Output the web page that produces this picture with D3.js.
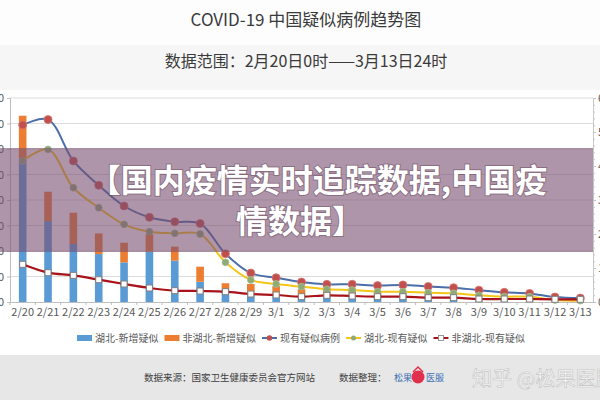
<!DOCTYPE html>
<html><head><meta charset="utf-8">
<script src="https://cdn.jsdelivr.net/npm/d3@7"></script>
<style>body{margin:0;background:#fff}svg{display:block}text{font-family:"Noto Sans CJK SC","Noto Sans",sans-serif}</style>
</head><body><svg id="c" width="600" height="400"></svg>
<script>
const categories = ["2/20","2/21","2/22","2/23","2/24","2/25","2/26","2/27","2/28","2/29","3/1","3/2","3/3","3/4","3/5","3/6","3/7","3/8","3/9","3/10","3/11","3/12","3/13"];
const hubeiNew    = [1127,635,455,376,311,395,324,159,73,55,47,42,52,52,45,55,50,20,10,8,6,5,5];
const nonHubeiNew = [334,230,245,162,154,136,110,118,74,86,78,58,63,55,40,25,25,20,20,18,22,25,30];
const totalExisting    = [5206,5365,4148,3434,2824,2491,2358,2308,1418,851,715,587,520,522,482,502,458,421,349,285,253,147,115];
const hubeiExisting    = [4145,4489,3360,2772,2284,2067,2020,2000,1167,647,529,450,373,353,303,303,274,255,196,157,157,59,39];
const nonHubeiExisting = [1108,862,784,656,529,412,333,323,303,235,206,157,196,176,157,157,127,127,88,88,88,78,78];
const leftTicks  = [0,200,400,600,800,1000,1200,1400,1600];
const rightTicks = [0,1000,2000,3000,4000,5000,6000];
const legendLabels = ["湖北-新增疑似","非湖北-新增疑似","现有疑似病例","湖北-现有疑似","非湖北-现有疑似"];

const svg = d3.select("#c");
// backgrounds
svg.append("rect").attr("x",0).attr("y",0).attr("width",600).attr("height",400).attr("fill","#fdfdfd");
svg.append("rect").attr("x",0).attr("y",45).attr("width",600).attr("height",45).attr("fill","#f6f6f6");
svg.append("rect").attr("x",0).attr("y",90).attr("width",600).attr("height",265).attr("fill","#ffffff");
svg.append("rect").attr("x",0).attr("y",355).attr("width",600).attr("height",45).attr("fill","#e7e7e7");

svg.append("text").attr("x",306).attr("y",26).attr("text-anchor","middle").attr("font-size",17).attr("fill","#3a3a3a").text("COVID-19 中国疑似病例趋势图");
svg.append("text").attr("x",306).attr("y",67).attr("text-anchor","middle").attr("font-size",16).attr("fill","#3a3a3a").text("数据范围：2月20日0时——3月13日24时");

const L = 10, R = 593, T = 98, B = 302;
const x = d3.scaleBand().domain(categories).range([L,R]).paddingInner(0.7).paddingOuter(0.35);
const yL = d3.scaleLinear().domain([0,1600]).range([B,T]);
const yR = d3.scaleLinear().domain([0,6000]).range([B,T]);
const cx = d => x(d) + x.bandwidth()/2;

// gridlines
svg.append("g").selectAll("line").data(leftTicks.slice(1)).join("line")
  .attr("x1",L).attr("x2",R).attr("y1",d=>yL(d)).attr("y2",d=>yL(d)).attr("stroke","#dcdcdc").attr("stroke-width",1);

// left axis
const gl = svg.append("g").attr("transform",`translate(${L},0)`).call(d3.axisLeft(yL).tickValues(leftTicks).tickSize(3).tickPadding(3));
gl.selectAll("text").attr("font-size",11).attr("fill","#595959");
gl.selectAll("line,path").attr("stroke","#bfbfbf");
// right axis
const gr = svg.append("g").attr("transform",`translate(${R},0)`).call(d3.axisRight(yR).tickValues(rightTicks).tickSize(3).tickPadding(2));
gr.selectAll("text").attr("font-size",11).attr("fill","#595959");
gr.selectAll("line,path").attr("stroke","#bfbfbf");
svg.append("g").attr("transform",`translate(${R},0)`).call(d3.axisRight(yR).tickValues(d3.range(0,6001,200)).tickSize(2).tickFormat(""))
  .selectAll("line,path").attr("stroke","#c8c8c8");
// bottom axis
const gb = svg.append("g").attr("transform",`translate(0,${B})`).call(d3.axisBottom(x).tickSize(0).tickPadding(6));
gb.select("path").attr("stroke","#bfbfbf");
gb.selectAll("text").attr("font-size",11).attr("fill","#595959");
svg.append("g").selectAll("line").data(categories).join("line")
  .attr("x1",d=>x(d)-x.step()*0.35).attr("x2",d=>x(d)-x.step()*0.35).attr("y1",B).attr("y2",B+3).attr("stroke","#bfbfbf");

// stacked bars
svg.append("g").selectAll("rect").data(categories).join("rect")
  .attr("x",d=>x(d)).attr("width",x.bandwidth())
  .attr("y",(d,i)=>yL(hubeiNew[i])).attr("height",(d,i)=>B-yL(hubeiNew[i])).attr("fill","#5b9bd5");
svg.append("g").selectAll("rect").data(categories).join("rect")
  .attr("x",d=>x(d)).attr("width",x.bandwidth())
  .attr("y",(d,i)=>yL(hubeiNew[i]+nonHubeiNew[i])).attr("height",(d,i)=>yL(hubeiNew[i])-yL(hubeiNew[i]+nonHubeiNew[i])).attr("fill","#ed7d31");

// lines
const line = d3.line().x((d,i)=>cx(categories[i])).y(d=>yR(d)).curve(d3.curveCatmullRom.alpha(0.5));
function drawLine(vals, col, w){
  svg.append("path").attr("d",line(vals)).attr("fill","none").attr("stroke",col).attr("stroke-width",w);
}
drawLine(totalExisting,"#4a6eaa",2);
svg.append("g").selectAll("circle").data(totalExisting).join("circle")
  .attr("cx",(d,i)=>cx(categories[i])).attr("cy",d=>yR(d)).attr("r",4).attr("fill","#c0504d").attr("stroke","#d9736f").attr("stroke-width",0.8);
drawLine(hubeiExisting,"#f5c518",2);
svg.append("g").selectAll("circle").data(hubeiExisting).join("circle")
  .attr("cx",(d,i)=>cx(categories[i])).attr("cy",d=>yR(d)).attr("r",3.4).attr("fill","#8eaa78").attr("stroke","#a7bf8f").attr("stroke-width",0.8);
drawLine(nonHubeiExisting,"#a8121a",2.2);
svg.append("g").selectAll("rect").data(nonHubeiExisting).join("rect")
  .attr("x",(d,i)=>cx(categories[i])-3).attr("y",d=>yR(d)-3).attr("width",6).attr("height",6)
  .attr("fill","#ffffff").attr("stroke","#808080").attr("stroke-width",1);

// legend (laid out sequentially from measured text widths)
const lg = svg.append("g").attr("font-size",10).attr("fill","#595959");
let px = 77;
const ly = 338;
legendLabels.forEach((lab,i)=>{
  if(i===0) lg.append("rect").attr("x",px).attr("y",ly-3).attr("width",15).attr("height",6).attr("fill","#5b9bd5");
  if(i===1) lg.append("rect").attr("x",px).attr("y",ly-3).attr("width",15).attr("height",6).attr("fill","#ed7d31");
  if(i===2){ lg.append("line").attr("x1",px).attr("x2",px+15).attr("y1",ly).attr("y2",ly).attr("stroke","#4a6eaa").attr("stroke-width",2);
    lg.append("circle").attr("cx",px+7.5).attr("cy",ly).attr("r",2.8).attr("fill","#c0504d"); }
  if(i===3){ lg.append("line").attr("x1",px).attr("x2",px+15).attr("y1",ly).attr("y2",ly).attr("stroke","#f5c518").attr("stroke-width",2);
    lg.append("circle").attr("cx",px+7.5).attr("cy",ly).attr("r",2.5).attr("fill","#8eaa78"); }
  if(i===4){ lg.append("line").attr("x1",px).attr("x2",px+15).attr("y1",ly).attr("y2",ly).attr("stroke","#a8121a").attr("stroke-width",2);
    lg.append("rect").attr("x",px+5).attr("y",ly-2.5).attr("width",5).attr("height",5).attr("fill","#fff").attr("stroke","#808080").attr("stroke-width",0.8); }
  const t = lg.append("text").attr("x",px+18).attr("y",ly+3.5).text(lab);
  px = px + 18 + t.node().getComputedTextLength() + 6;
});

// footer
svg.append("text").attr("x",144).attr("y",381).attr("font-size",9.5).attr("fill","#404040").text("数据来源：国家卫生健康委员会官方网站");
svg.append("text").attr("x",339).attr("y",381).attr("font-size",9.5).attr("fill","#404040").text("数据整理：");
svg.append("text").attr("x",394).attr("y",381).attr("font-size",9).attr("fill","#3a6fb5").text("松果");
svg.append("circle").attr("cx",418).attr("cy",377).attr("r",6.5).attr("fill","#e0304e");
svg.append("path").attr("d","M413,372 L418,367 L423,372").attr("fill","none").attr("stroke","#e0304e").attr("stroke-width",1.5);
svg.append("text").attr("x",426).attr("y",381).attr("font-size",9).attr("fill","#3a6fb5").text("医服");
svg.append("text").attr("x",472).attr("y",386).attr("font-size",20).attr("fill","#ffffff").attr("fill-opacity",0.8)
  .attr("stroke","#c4c4c4").attr("stroke-width",0.6).text("知乎 @松果医服");

// overlay banner
svg.append("rect").attr("x",0).attr("y",148).attr("width",R).attr("height",104).attr("fill","rgb(120,78,112)").attr("fill-opacity",0.6);
const ov = svg.append("g").attr("font-size",32).attr("font-weight","bold").attr("fill","#ffffff").attr("text-anchor","middle")
  .attr("stroke","rgba(70,40,60,0.35)").attr("stroke-width",2).attr("paint-order","stroke");
ov.append("text").attr("x",318).attr("y",192).text("【国内疫情实时追踪数据,中国疫");
ov.append("text").attr("x",300).attr("y",233).text("情数据】");
</script></body></html>
